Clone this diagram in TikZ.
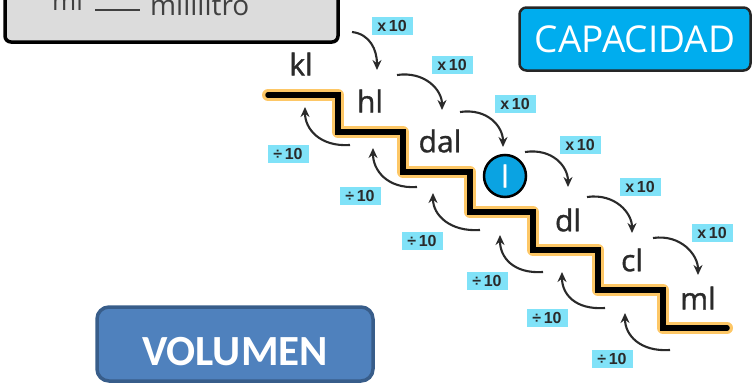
\documentclass[tikz,border=0pt]{standalone}
\usepackage{fontspec}
\setmainfont{Open Sans}
\newfontfamily\unitfont{Open Sans}[FakeBold=1.2]
\newfontfamily\titlefont{Carlito}
\newfontfamily\tagfont{Liberation Sans}
\usetikzlibrary{arrows.meta}
\definecolor{ink}{HTML}{2A2A2A}
\definecolor{boxgray}{HTML}{DCDCDC}
\definecolor{boxtext}{HTML}{404040}
\definecolor{stairorange}{HTML}{FDC766}
\definecolor{capblue}{HTML}{00ADEE}
\definecolor{litblue}{HTML}{0AA3E2}
\definecolor{volblue}{HTML}{4F81BD}
\definecolor{volborder}{HTML}{385D8A}
\definecolor{tagcyan}{HTML}{80E2F8}

\begin{document}
\begin{tikzpicture}[x=1pt,y=-1pt,
  unit/.style={text=ink,font=\unitfont\fontsize{30}{36}\selectfont,inner sep=0pt},
  tag/.style={fill=tagcyan,text=ink,font=\tagfont\bfseries\fontsize{16}{18}\selectfont,minimum width=41pt,minimum height=18pt,inner sep=0pt},
  conv/.style={ink,line width=2.1pt,-{Stealth[length=10pt,width=9pt]}}]
\clip (0,0) rectangle (752,383);

% names box
\draw[line width=3.5pt,fill=boxgray,rounded corners=6pt] (5,-20) rectangle (338,42);
\node[text=boxtext,font=\fontsize{26}{30}\selectfont,inner sep=0pt,anchor=base west] (abbr) at (52,10) {ml};
\node[text=boxtext,font=\fontsize{28}{32}\selectfont,inner sep=0pt,anchor=base west] (name) at (150,15) {mililitro};
\draw[boxtext,line width=2pt,shorten <=12pt,shorten >=10pt] (abbr.base east) -- (abbr.base east -| name.west);

% titles
\node[draw=black!85,line width=2.5pt,fill=capblue,rounded corners=7pt,minimum width=231pt,minimum height=63pt,
  text=white,text height=27pt,text depth=0pt,font=\fontsize{37}{40}\selectfont] (cap) at (635,39) {CAPACIDAD};
\node[draw=volborder,line width=3.5pt,fill=volblue,rounded corners=12pt,minimum width=276pt,minimum height=74pt,
  text=white,text height=43pt,text depth=0pt,font=\titlefont\bfseries\fontsize{43}{46}\selectfont] (vol) at (235,344) {VOLUMEN};

% stairs
\draw[stairorange,line width=12pt,line join=round,line cap=round]
  (268,95) -| (338,132) -| (403,172) -| (470,212) -| (533,250) -| (598,290) -| (663,328) -- (727,328);
\draw[black,line width=5.5pt,line cap=round]
  (268,95) -| (338,132) -| (403,172) -| (470,212) -| (533,250) -| (598,290) -| (663,328) -- (727,328);

% units
\node[unit] (kl) at (301,64) {kl};
\node[unit] (hl) at (370,101) {hl};
\node[unit] (dal) at (440,141) {dal};
\node[circle,draw=black,line width=2.5pt,fill=litblue,minimum size=42pt,inner sep=0pt,text=white,font=\unitfont\fontsize{30}{36}\selectfont] (l) at (505,176) {l};
\node[unit] (dl) at (568,220) {dl};
\node[unit] (cl) at (632,260) {cl};
\node[unit] (ml) at (698,298) {ml};

% multiply tags
\node[tag] (x1) at (392,26) {x\,10};
\node[tag] (x2) at (452,65) {x\,10};
\node[tag] (x3) at (515,104) {x\,10};
\node[tag] (x4) at (580,145) {x\,10};
\node[tag] (x5) at (640,187) {x\,10};
\node[tag] (x6) at (712,233) {x\,10};

% divide tags
\node[tag] (d1) at (288,154) {÷\,10};
\node[tag] (d2) at (360,196) {÷\,10};
\node[tag] (d3) at (422,241) {÷\,10};
\node[tag] (d4) at (487,281) {÷\,10};
\node[tag] (d5) at (547,318) {÷\,10};
\node[tag] (d6) at (612,359) {÷\,10};

% going down
\coordinate (xs1) at (352,32);  \coordinate (xe1) at (377,70);
\coordinate (xs2) at (397,75);  \coordinate (xe2) at (442,110);
\coordinate (xs3) at (460,112); \coordinate (xe3) at (503,147);
\coordinate (xs4) at (525,152); \coordinate (xe4) at (568,187);
\coordinate (xs5) at (587,197); \coordinate (xe5) at (632,233);
\coordinate (xs6) at (653,238); \coordinate (xe6) at (698,275);
\draw[conv] (xs1) .. controls +(18,2) and +(0,-20) .. (xe1);
\draw[conv] (xs2) .. controls +(28,-4) and +(0,-20) .. (xe2);
\draw[conv] (xs3) .. controls +(28,-4) and +(0,-20) .. (xe3);
\draw[conv] (xs4) .. controls +(28,-4) and +(0,-20) .. (xe4);
\draw[conv] (xs5) .. controls +(28,-4) and +(0,-20) .. (xe5);
\draw[conv] (xs6) .. controls +(28,-4) and +(0,-20) .. (xe6);

% going up
\coordinate (ds1) at (350,145); \coordinate (de1) at (305,107);
\coordinate (ds2) at (417,187); \coordinate (de2) at (373,148);
\coordinate (ds3) at (480,230); \coordinate (de3) at (433,193);
\coordinate (ds4) at (543,272); \coordinate (de4) at (500,235);
\coordinate (ds5) at (605,308); \coordinate (de5) at (562,272);
\coordinate (ds6) at (670,350); \coordinate (de6) at (625,313);
\draw[conv] (ds1) .. controls +(-30,2) and +(0,22) .. (de1);
\draw[conv] (ds2) .. controls +(-30,2) and +(0,22) .. (de2);
\draw[conv] (ds3) .. controls +(-30,2) and +(0,22) .. (de3);
\draw[conv] (ds4) .. controls +(-30,2) and +(0,22) .. (de4);
\draw[conv] (ds5) .. controls +(-30,2) and +(0,22) .. (de5);
\draw[conv] (ds6) .. controls +(-30,2) and +(0,22) .. (de6);
\end{tikzpicture}
\end{document}
